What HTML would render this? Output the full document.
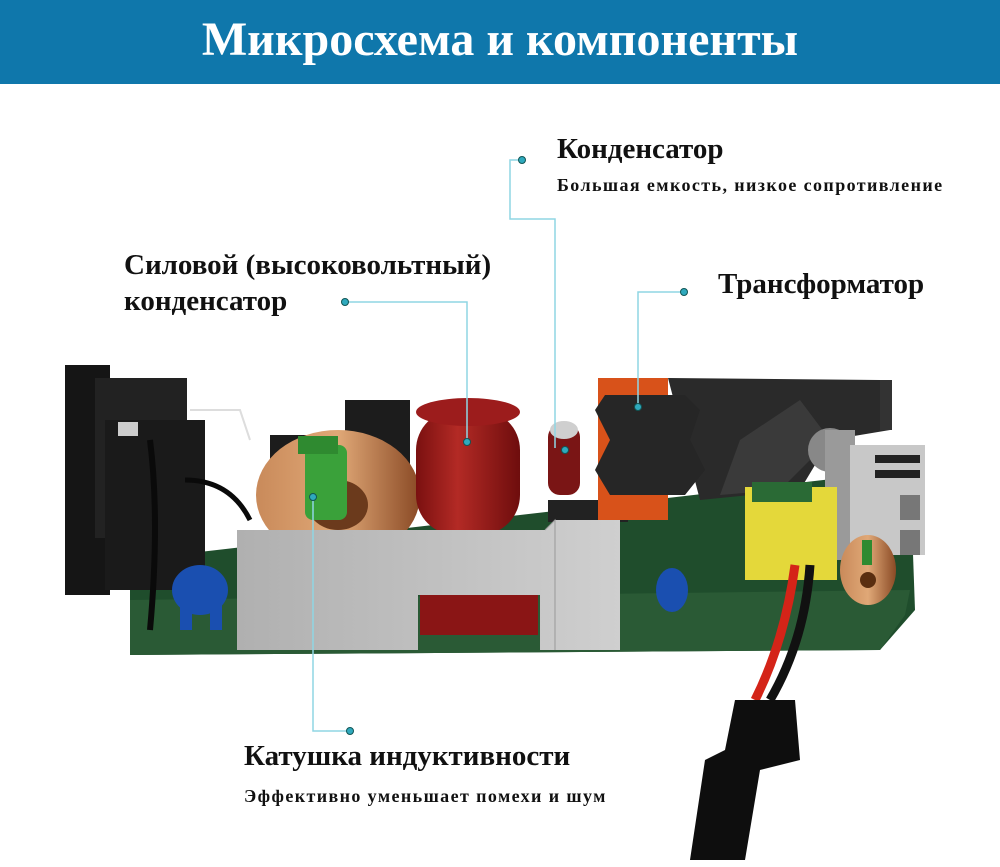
<!DOCTYPE html>
<html><head><meta charset="utf-8"><style>
html,body{margin:0;padding:0;background:#fff;}
body{width:1000px;height:867px;overflow:hidden;position:relative;font-family:"Liberation Serif",serif;}
.hdr{position:absolute;left:0;top:0;width:1000px;height:84px;background:#0f77ab;color:#fff;text-align:center;font-weight:bold;font-size:48px;line-height:80px;}
.t{position:absolute;font-weight:bold;color:#111;white-space:nowrap;}
.b{font-size:29px;}
.s{font-size:18px;letter-spacing:1.4px;}
svg{position:absolute;left:0;top:0;}
</style></head><body>
<div class="hdr">Микросхема и компоненты</div>
<svg width="1000" height="867" viewBox="0 0 1000 867">
<defs>
<linearGradient id="cu" x1="0" x2="1"><stop offset="0" stop-color="#c98a5a"/><stop offset=".5" stop-color="#e0a877"/><stop offset="1" stop-color="#8a4a25"/></linearGradient>
<linearGradient id="rd" x1="0" x2="1"><stop offset="0" stop-color="#7a1010"/><stop offset=".4" stop-color="#b32a25"/><stop offset="1" stop-color="#6e0d0d"/></linearGradient>
<linearGradient id="ag" x1="0" x2="1"><stop offset="0" stop-color="#b0b0b0"/><stop offset="1" stop-color="#cfcfcf"/></linearGradient>
</defs>
<polygon points="130,560 910,470 915,610 880,650 130,655" fill="#1f4d2c"/>
<polygon points="130,600 910,590 905,615 880,650 130,655" fill="#2a5a35"/>
<rect x="65" y="365" width="45" height="230" fill="#151515"/>
<rect x="95" y="378" width="92" height="160" fill="#222"/>
<rect x="105" y="420" width="100" height="170" fill="#1a1a1a"/>
<rect x="118" y="422" width="20" height="14" fill="#ccc"/>
<path d="M150,440 Q160,520 150,630" stroke="#0a0a0a" stroke-width="6" fill="none"/>
<path d="M185,480 Q230,480 250,520" stroke="#0a0a0a" stroke-width="5" fill="none"/>
<path d="M190,410 L240,410 L250,440" stroke="#ddd" stroke-width="2" fill="none"/>
<ellipse cx="200" cy="590" rx="28" ry="25" fill="#1a4fb0"/>
<rect x="180" y="605" width="12" height="25" fill="#1a4fb0"/><rect x="210" y="605" width="12" height="25" fill="#1a4fb0"/>
<ellipse cx="672" cy="590" rx="16" ry="22" fill="#1a4fb0"/>
<rect x="345" y="400" width="65" height="75" fill="#1c1c1c"/>
<rect x="270" y="435" width="40" height="30" fill="#1c1c1c"/>
<ellipse cx="338" cy="495" rx="82" ry="65" fill="url(#cu)"/>
<ellipse cx="338" cy="505" rx="30" ry="25" fill="#6b3a1c"/>
<rect x="305" y="445" width="42" height="75" rx="8" fill="#3aa13a"/>
<rect x="298" y="436" width="40" height="18" fill="#2f8a30"/>
<rect x="416" y="410" width="104" height="125" rx="40" fill="url(#rd)"/>
<ellipse cx="468" cy="412" rx="52" ry="14" fill="#9c1c1c"/>
<rect x="420" y="595" width="118" height="40" fill="#8a1515"/>
<rect x="548" y="425" width="32" height="70" rx="12" fill="#7a1515"/>
<ellipse cx="564" cy="430" rx="14" ry="9" fill="#cfcfcf"/>
<rect x="548" y="500" width="80" height="22" fill="#222"/>
<rect x="598" y="378" width="70" height="142" fill="#d8521a"/>
<polygon points="668,378 880,380 890,430 830,440 800,490 700,500" fill="#2a2a2a"/>
<polygon points="740,440 800,400 830,440 780,490 720,495" fill="#3a3a3a"/>
<path d="M605,395 L685,395 L700,410 L690,440 L705,470 L685,495 L610,495 L595,470 L610,440 L595,410 Z" fill="#262626"/>
<rect x="880" y="380" width="12" height="50" fill="#333"/>
<circle cx="830" cy="450" r="22" fill="#888"/>
<rect x="825" y="430" width="30" height="130" fill="#9a9a9a"/>
<rect x="850" y="445" width="75" height="110" fill="#c8c8c8"/>
<rect x="875" y="455" width="45" height="8" fill="#222"/><rect x="875" y="470" width="45" height="8" fill="#222"/>
<rect x="900" y="495" width="20" height="25" fill="#777"/><rect x="900" y="530" width="20" height="25" fill="#777"/>
<rect x="745" y="487" width="92" height="93" fill="#e4d83a"/>
<rect x="752" y="482" width="60" height="20" fill="#2a6a35"/>
<ellipse cx="868" cy="570" rx="28" ry="35" fill="url(#cu)"/>
<circle cx="868" cy="580" r="8" fill="#5a2e10"/>
<rect x="862" y="540" width="10" height="25" fill="#2f8a30"/>
<path d="M237,530 L545,530 L555,520 L620,520 L620,650 L540,650 L540,595 L418,595 L418,650 L237,650 Z" fill="url(#ag)"/>
<path d="M545,530 L555,520 L555,650" stroke="#999" fill="none"/>
<path d="M795,565 Q785,640 755,700" stroke="#d42418" stroke-width="9" fill="none"/>
<path d="M810,565 Q805,640 770,700" stroke="#111" stroke-width="9" fill="none"/>
<path d="M735,700 L795,700 L800,760 L760,770 L745,860 L690,860 L705,760 L725,750 Z" fill="#0e0e0e"/>
<g stroke="#8fd6e4" stroke-width="1.5" fill="none">
<path d="M522,160 L510,160 L510,219 L555,219 L555,448"/>
<path d="M345,302 L467,302 L467,442"/>
<path d="M684,292 L638,292 L638,407"/>
<path d="M313,497 L313,731 L350,731"/>
</g>
<g fill="#2fa9bd" stroke="#155" stroke-width="1">
<circle cx="522" cy="160" r="3.5"/><circle cx="565" cy="450" r="3.5"/>
<circle cx="345" cy="302" r="3.5"/><circle cx="467" cy="442" r="3.5"/>
<circle cx="684" cy="292" r="3.5"/><circle cx="638" cy="407" r="3.5"/>
<circle cx="313" cy="497" r="3.5"/><circle cx="350" cy="731" r="3.5"/>
</g>
</svg>
<div class="t b" style="left:557px;top:133px;">Конденсатор</div>
<div class="t s" style="left:557px;top:175px;">Большая емкость, низкое сопротивление</div>
<div class="t b" style="left:124px;top:247px;line-height:36px;">Силовой (высоковольтный)<br>конденсатор</div>
<div class="t b" style="left:718px;top:268px;">Трансформатор</div>
<div class="t b" style="left:244px;top:740px;">Катушка индуктивности</div>
<div class="t s" style="left:244px;top:786px;">Эффективно уменьшает помехи и шум</div>
</body></html>
